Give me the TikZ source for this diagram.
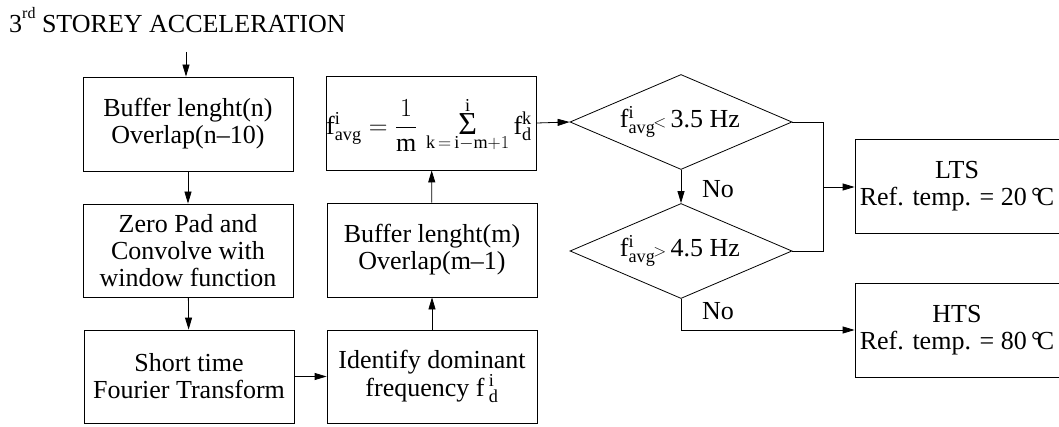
\RequirePackage{fix-cm}
\documentclass[tikz,border=0pt]{standalone}
\usepackage{fontspec}
\setmainfont{Liberation Serif}
\usetikzlibrary{arrows.meta,shapes.geometric}
\newcommand{\rmm}[1]{\mathrm{#1}}
\newcommand{\bigsig}{\mathop{\hbox{\fontsize{32}{32}\selectfont Σ}}}
\begin{document}
\begin{tikzpicture}[x=1pt,y=-1pt,
  font=\fontsize{26}{27}\selectfont,
  box/.style={draw, line width=0.8pt, minimum width=210pt, minimum height=94pt, align=center, inner sep=0pt},
  rbox/.style={draw, line width=0.8pt, minimum width=204pt, minimum height=94pt, align=center, inner sep=0pt},
  dia/.style={draw, diamond, line width=0.8pt, minimum width=222pt, minimum height=95pt, inner sep=0pt, shape aspect=2.34},
  con/.style={line width=0.8pt},
  arr/.style={con, -{Triangle[length=12pt,width=7pt]}},
  lbl/.style={inner sep=0pt}]
\useasboundingbox (0,0) rectangle (1059,427);
\node[lbl, anchor=base west] (title) at (9,33) {3\raisebox{0.55em}{\fontsize{16}{16}\selectfont rd} STOREY ACCELERATION};
\coordinate (tin) at (186,52);
\node[box] (b1) at (188,124) {Buffer lenght(n)\\Overlap(n\textendash10)};
\node[box, minimum height=93pt] (b2) at (188,250.5) {Zero Pad and\\Convolve with\\window function};
\node[box, minimum height=93pt] (b3) at (189,376.5) {Short time\\Fourier Transform};
\node[box, minimum height=93pt] (b4) at (432,376.5) {Identify dominant\\frequency f\,$^{\rmm{i}}_{\rmm{d}}$};
\node[box, minimum height=94pt] (b5) at (432,250) {Buffer lenght(m)\\Overlap(m\textendash1)};
\node[box, minimum height=94pt] (b6) at (431.5,123) {};
\node[lbl] (b6t) at (429,125) {$\rmm{f}^{\rmm{i}}_{\rmm{avg}} = {\displaystyle\frac{1}{\rmm{m}}}\,\bigsig\limits_{\rmm{k}\,=\,\rmm{i}-\rmm{m}+1}^{\rmm{i}}\rmm{f}^{\rmm{k}}_{\rmm{d}}$};
\node[dia] (d1) at (681,122) {};
\node[lbl] (d1t) at (680,122) {$\rmm{f}^{\rmm{i}}_{\rmm{avg}}$\kern-2pt{\fontsize{17}{17}\selectfont$<$}\,3.5 Hz};
\node[dia] (d2) at (681,251) {};
\node[lbl] (d2t) at (680,251) {$\rmm{f}^{\rmm{i}}_{\rmm{avg}}$\kern-2pt{\fontsize{17}{17}\selectfont$>$}\,4.5 Hz};
\node[rbox] (lts) at (957,186) {LTS\\Ref. temp. = 20\,°\kern-0.18em C};
\node[rbox] (hts) at (957,330) {HTS\\Ref. temp. = 80\,°\kern-0.18em C};
\node[lbl] (no1) at (718,189) {No};
\node[lbl] (no2) at (718,311) {No};
\coordinate (jc) at (823,187);
\draw[arr] (tin) -- (tin |- b1.north);
\draw[arr] (b1) -- (b2);
\draw[arr] (b2) -- (b3);
\draw[arr] (b3) -- (b4);
\draw[arr] (b4) -- (b5);
\draw[arr] (b5) -- (b6);
\draw[arr] (b6.east) -- (d1.west);
\draw[arr] (d1.south) -- (d2.north);
\draw[con] (d1.east) -| (jc) |- (d2.east);
\draw[arr] (jc) -- (jc -| lts.west);
\draw[arr] (d2.south) |- (hts.west);
\end{tikzpicture}
\end{document}
